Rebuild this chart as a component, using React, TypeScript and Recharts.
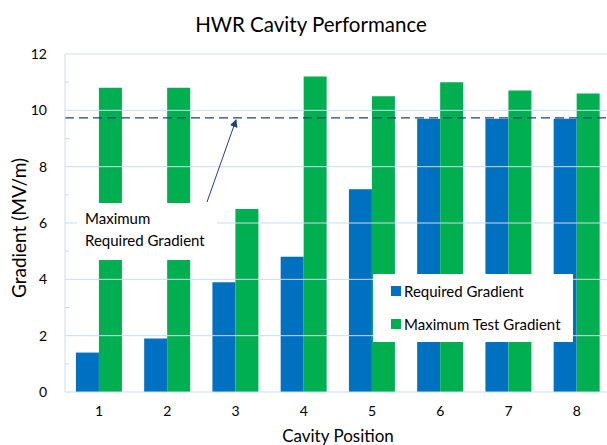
import { BarChart, Bar, XAxis, YAxis, ReferenceLine, Legend } from "recharts";

const positions = ["1", "2", "3", "4", "5", "6", "7", "8"];
const requiredGradient = [1.4, 1.9, 3.9, 4.8, 7.2, 9.7, 9.7, 9.7];
const maxTestGradient = [10.8, 10.8, 6.5, 11.2, 10.5, 11.0, 10.7, 10.6];
const maxRequired = 9.73;
const yTicks = [0, 1, 2, 3, 4, 5, 6, 7, 8, 9, 10, 11, 12];
const gridValues = [2, 4, 6, 8, 10, 12];
const legendOrder = ["Required Gradient", "Maximum Test Gradient"];

const BLUE = "#0070C0";
const GREEN = "#00B050";
const GRID = "#C9DDF1";
const NAVY = "#203F84";
const FONT = "Lato, 'Noto Sans', sans-serif";

const data = positions.map((pos, i) => ({
  pos,
  required: requiredGradient[i],
  maxTest: maxTestGradient[i],
}));

function YTick(props: any) {
  const { x, y, payload } = props;
  const v = payload.value;
  if (v % 2 === 1) {
    return <line x1={x} x2={x + 4} y1={y} y2={y} stroke={GRID} />;
  }
  return (
    <text x={x - 18} y={y} dy={5} textAnchor="end" fontSize={14} fill="#000" fontFamily={FONT}>
      {v}
    </text>
  );
}

function LegendBox(props: any) {
  const items = [...(props.payload || [])].sort(
    (a: any, b: any) => legendOrder.indexOf(a.value) - legendOrder.indexOf(b.value)
  );
  return (
    <div
      style={{
        width: 200,
        height: 68,
        background: "#fff",
        fontFamily: FONT,
        fontSize: 15,
        color: "#000",
        boxSizing: "border-box",
        paddingLeft: 18,
        paddingTop: 8,
      }}
    >
      {items.map((p: any) => (
        <div key={p.value} style={{ display: "flex", alignItems: "center", height: 18, marginBottom: 15 }}>
          <span style={{ width: 10, height: 10, background: p.color, marginRight: 3, display: "inline-block" }} />
          <span>{p.value}</span>
        </div>
      ))}
    </div>
  );
}

export default function App() {
  return (
    <div style={{ position: "absolute", left: 0, top: 0, width: 607, height: 445, overflow: "hidden", background: "#fff" }}>
      <div
        style={{
          position: "absolute",
          left: 0,
          width: 622,
          top: 12,
          textAlign: "center",
          fontFamily: FONT,
          fontSize: 20.5,
          color: "#000",
        }}
      >
        HWR Cavity Performance
      </div>
      <BarChart
        width={620}
        height={445}
        data={data}
        margin={{ top: 54, right: 9, left: 25, bottom: 0 }}
        barCategoryGap="16%"
        barGap={0}
      >
        <XAxis
          dataKey="pos"
          height={53}
          tickLine={false}
          tickSize={0}
          tickMargin={14}
          axisLine={{ stroke: GRID }}
          tick={{ fontSize: 14, fill: "#000", fontFamily: FONT }}
        />
        <YAxis
          width={40}
          domain={[0, 12]}
          ticks={yTicks}
          interval={0}
          tickLine={false}
          tickSize={0}
          tickMargin={0}
          axisLine={{ stroke: GRID }}
          tick={<YTick />}
        />
        {gridValues.map((v) => (
          <ReferenceLine key={v} y={v} stroke={GRID} strokeWidth={1} />
        ))}
        <Bar dataKey="required" name="Required Gradient" fill={BLUE} isAnimationActive={false} />
        <Bar dataKey="maxTest" name="Maximum Test Gradient" fill={GREEN} isAnimationActive={false} />
        <ReferenceLine y={maxRequired} stroke={NAVY} strokeWidth={1.3} strokeDasharray="9 5" />
        <Legend
          layout="vertical"
          align="center"
          verticalAlign="middle"
          content={<LegendBox />}
          wrapperStyle={{ left: 373, top: 274, width: 200, height: 68 }}
        />
      </BarChart>
      <div
        style={{
          position: "absolute",
          left: 77,
          top: 203,
          width: 140,
          height: 57,
          background: "#fff",
          boxSizing: "border-box",
          paddingLeft: 8,
          paddingTop: 4,
          fontFamily: FONT,
          fontSize: 15,
          lineHeight: "22px",
          color: "#000",
        }}
      >
        Maximum
        <br />
        Required Gradient
      </div>
      <svg style={{ position: "absolute", left: 0, top: 0 }} width={607} height={445}>
        <defs>
          <marker id="arr" markerWidth="8" markerHeight="8" refX="7" refY="4" orient="auto" markerUnits="userSpaceOnUse">
            <path d="M0,0 L8,4 L0,8 z" fill={NAVY} />
          </marker>
        </defs>
        <line x1={207} y1={202} x2={236} y2={120} stroke={NAVY} strokeWidth={1} markerEnd="url(#arr)" />
      </svg>
      <div
        style={{
          position: "absolute",
          left: 18,
          top: 228,
          transform: "translate(-50%, -50%) rotate(-90deg)",
          whiteSpace: "nowrap",
          fontFamily: FONT,
          fontSize: 19,
          color: "#000",
        }}
      >
        Gradient (MV/m)
      </div>
      <div
        style={{
          position: "absolute",
          left: 338,
          top: 435,
          transform: "translate(-50%, -50%)",
          whiteSpace: "nowrap",
          fontFamily: FONT,
          fontSize: 17,
          color: "#000",
        }}
      >
        Cavity Position
      </div>
    </div>
  );
}
